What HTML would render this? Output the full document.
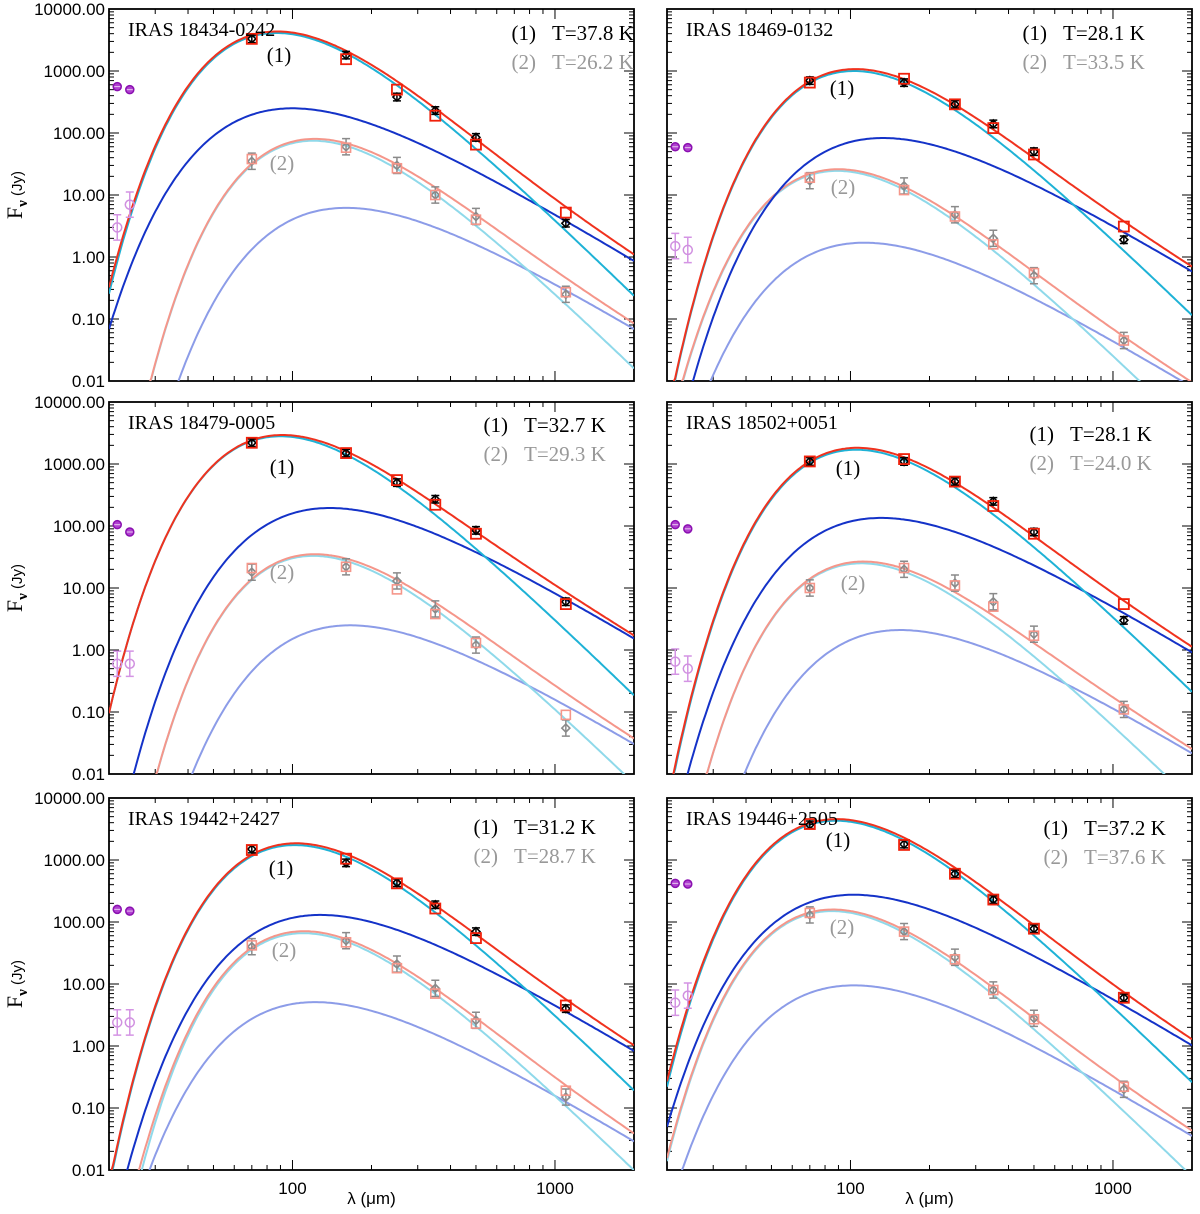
<!DOCTYPE html>
<html><head><meta charset="utf-8"><style>
body{margin:0;background:#fff;overflow:hidden}
svg{display:block}
</style></head><body>
<svg id="fig" width="1200" height="1214" viewBox="0 0 1200 1214" xmlns="http://www.w3.org/2000/svg"></svg>
<script>
const names=["IRAS 18434-0242","IRAS 18469-0132","IRAS 18479-0005","IRAS 18502+0051","IRAS 19442+2427","IRAS 19446+2505"];
const temp1=["37.8","28.1","32.7","28.1","31.2","37.2"];
const temp2=["26.2","33.5","29.3","24.0","28.7","37.6"];
const cyanPeakL=[87,103,90,105,102,88];
const cyanPeakS=[4100,1000,2800,1700,1740,4300];
const bluePeakL=[100,133,139,131,128,103];
const bluePeakS=[250,83,195,135,130,275];
const lcyanPeakL=[120,89,120,110,110,85];
const lcyanPeakS=[75,24.5,33,25,66,150];
const lbluePeakL=[160,113,166,155,122,103];
const lbluePeakS=[6.2,1.7,2.5,2.1,5.1,9.5];
const bandL=[70,160,250,350,500,1100];
const blackF=[[3300,1800,380,230,85,3.5],[700,650,290,140,50,1.9],[2200,1500,500,270,85,6],[1100,1100,520,250,80,3],[1500,900,430,190,70,4],[3700,1800,600,230,78,6]];
const redF=[[3300,1550,500,190,65,5.2],[650,750,290,120,45,3.1],[2200,1500,550,220,75,5.5],[1100,1200,520,210,75,5.5],[1450,1050,420,165,55,4.5],[3800,1750,600,230,78,6]];
const greyF=[[35,60,30,10,4.5,0.25],[17,14,4.8,2,0.5,0.045],[18,22,13,4.6,1.2,0.055],[10,20,12,6,1.8,0.11],[40,50,21,8.5,2.6,0.15],[130,70,27,8,2.8,0.2]];
const salmonF=[[38,58,27,10,4,0.27],[19,12,4.5,1.6,0.55,0.045],[21,22,9.5,3.8,1.3,0.09],[10,21,11,5,1.7,0.11],[42,47,18,7,2.3,0.19],[140,70,25,8,2.7,0.22]];
const midL=[21.5,24];
const purpleF=[[560,500],[60,58],[105,80],[105,90],[160,150],[420,410]];
const lpurpleF=[[3,7],[1.5,1.3],[0.6,0.6],[0.65,0.5],[2.4,2.4],[5,6.5]];
const yTicks=[10000,1000,100,10,1,0.1,0.01];
const yTickLabels=["10000.00","1000.00","100.00","10.00","1.00","0.10","0.01"];
const xTicks=[100,1000];
const xTickLabels=["100","1000"];
const lab1Pos=[[279,55],[842,88],[282,467],[848,468],[281,868],[838,840]];
const lab2Pos=[[282,163],[843,187],[282,572],[853,583],[284,950],[842,927]];
const hdrPos=[[536,33],[1047,33],[508,425],[1054,434],[498,827],[1068,828]];

const NS="http://www.w3.org/2000/svg";
const svg=document.getElementById('fig');
function el(tag,attrs,parent){const e=document.createElementNS(NS,tag);for(const k in attrs)e.setAttribute(k,attrs[k]);(parent||svg).appendChild(e);return e;}
const lefts=[109,667],tops=[9,402,798],W=525,H=372;
const XMIN=Math.log10(20),XMAX=Math.log10(2000),YMIN=-2,YMAX=4;
function gb(l,lp,Sp,a){let x=3;for(let i=0;i<50;i++)x=a*(1-Math.exp(-x));const b=x*lp;return Sp*Math.pow(lp/l,a)*(Math.exp(x)-1)/(Math.exp(b/l)-1);}
const sans='"Liberation Sans",Arial,sans-serif', serif='"Liberation Serif","Times New Roman",serif';

for(let p=0;p<6;p++){
  const col=p%2,row=Math.floor(p/2);
  const L=lefts[col],T=tops[row];
  const xs=v=>L+(Math.log10(v)-XMIN)/(XMAX-XMIN)*W;
  const ys=v=>T+(YMAX-Math.log10(v))/(YMAX-YMIN)*H;
  const g=el('g',{});
  
  
  const cp=el('clipPath',{id:'c'+p},g);el('rect',{x:L,y:T,width:W,height:H},cp);
  const tk=el('g',{stroke:'#000','stroke-width':1},g);
  
  
  for(let d=-2;d<4;d++)for(let m=1;m<10;m++){const v=m*Math.pow(10,d);const y=ys(v);const len=m==1?10:5;
    el('line',{x1:L,x2:L+len,y1:y,y2:y},tk);el('line',{x1:L+W,x2:L+W-len,y1:y,y2:y},tk);}
  for(let d=1;d<4;d++)for(let m=1;m<10;m++){const v=m*Math.pow(10,d);if(v<20||v>2000)continue;const x=xs(v);const len=(m==1)?10:5;
    el('line',{x1:x,x2:x,y1:T+H,y2:T+H-len},tk);el('line',{x1:x,x2:x,y1:T,y2:T+len},tk);}
  const fr=el('rect',{x:L,y:T,width:W,height:H,fill:'none',stroke:'#000','stroke-width':1.8},g);
  
  
  if(col==0){yTicks.forEach((v,i)=>{const t=el('text',{x:L-4,y:ys(v)+6,'text-anchor':'end','font-family':sans,'font-size':17},g);t.textContent=yTickLabels[i];
    
    });
    const yt=el('text',{transform:`translate(22,${T+H/2}) rotate(-90)`,'text-anchor':'middle','font-family':serif,'font-size':22},g);
    
    
    yt.innerHTML='F<tspan font-size="15" dy="5" font-weight="bold">ν</tspan><tspan dy="-5" font-family=\'"Liberation Sans",sans-serif\' font-size="15"> (Jy)</tspan>';}
  if(row==2){xTicks.forEach((v,i)=>{const t=el('text',{x:xs(v),y:T+H+24,'text-anchor':'middle','font-family':sans,'font-size':17},g);t.textContent=xTickLabels[i];
    
    });
    const xt=el('text',{x:L+W/2,y:1204,'text-anchor':'middle','font-family':sans,'font-size':17},g);xt.textContent='λ (μm)';
    
    }
  const cg=el('g',{'clip-path':`url(#c${p})`,fill:'none'},g);
  const N=260;const grid=[];for(let i=0;i<=N;i++)grid.push(Math.pow(10,XMIN+(XMAX-XMIN)*i/N));
  const fC=l=>gb(l,cyanPeakL[p],cyanPeakS[p],5.2), fB=l=>gb(l,bluePeakL[p],bluePeakS[p],3.6);
  const fLC=l=>gb(l,lcyanPeakL[p],lcyanPeakS[p],5.2), fLB=l=>gb(l,lbluePeakL[p],lbluePeakS[p],3.6);
  const curves=[[fLB,'#8c9ce8','light-blue-curve-2'],[fLC,'#8fd9ea','light-cyan-curve-2'],[l=>fLC(l)+fLB(l),'#f5968a','salmon-total-curve-2'],
    [fB,'#1432c8','blue-curve-1'],[fC,'#1eb2d6','cyan-curve-1'],[l=>fC(l)+fB(l),'#f0321e','red-total-curve-1']];
  curves.forEach(([f,c,n])=>{let d='';grid.forEach((l,i)=>{let v=Math.max(f(l),0.0093);d+=(i?'L':'M')+xs(l).toFixed(1)+','+ys(v).toFixed(1);});
    const pa=el('path',{d:d,stroke:c,'stroke-width':2},cg);
    
    });
  const pg=el('g',{'clip-path':`url(#c${p})`},g);
  function diamond(x,y,c,n,err){if(err){const e=el('path',{d:`M${x},${ys(err[0])}V${ys(err[1])}M${x-4},${ys(err[0])}h8M${x-4},${ys(err[1])}h8`,stroke:c,'stroke-width':1.5,fill:'none'},pg);}
    const d=el('path',{d:`M${x},${y-4}L${x+4},${y}L${x},${y+4}L${x-4},${y}Z`,stroke:c,'stroke-width':1.6,fill:'none'},pg);}
  bandL.forEach((l,i)=>{const x=xs(l);
    diamond(x,ys(greyF[p][i]),'#8a8a8a','data-point-2',[greyF[p][i]*1.35,greyF[p][i]/1.35]);
    const s2=el('rect',{x:x-4.5,y:ys(salmonF[p][i])-4.5,width:9,height:9,fill:'none',stroke:'#f5968a','stroke-width':1.6},pg);
    
    
    diamond(x,ys(blackF[p][i]),'#000','data-point-1',[blackF[p][i]*1.15,blackF[p][i]/1.15]);
    const s1=el('rect',{x:x-5,y:ys(redF[p][i])-5,width:10,height:10,fill:'none',stroke:'#f0200a','stroke-width':1.8},pg);
    
    });
  midL.forEach((l,i)=>{const x=xs(l);
    const y1=ys(purpleF[p][i]);
    const c1=el('circle',{cx:x,cy:y1,r:4,fill:'#b040d0',stroke:'#8a10b0','stroke-width':1.5},pg);
    
    
    el('line',{x1:x-3,x2:x+3,y1:y1,y2:y1,stroke:'#e8c8f0','stroke-width':1},pg);
    const v=lpurpleF[p][i];
    const eb=el('path',{d:`M${x},${ys(v*1.6)}V${ys(v/1.6)}M${x-4},${ys(v*1.6)}h8M${x-4},${ys(v/1.6)}h8`,stroke:'#d494e4','stroke-width':1.5,fill:'none'},pg);
    
    
    const c2=el('circle',{cx:x,cy:ys(v),r:4.5,fill:'none',stroke:'#d090e0','stroke-width':1.5},pg);
    
    });
  const nm=el('text',{x:L+19,y:T+27,'font-family':serif,'font-size':20},g);nm.textContent=names[p];
  
  
  const [hx,hy]=hdrPos[p];
  const h1=el('text',{x:hx,y:hy+7,'text-anchor':'end','font-family':serif,'font-size':21},g);h1.textContent='(1)';
  
  
  const t1=el('text',{x:hx+16,y:hy+7,'font-family':serif,'font-size':21},g);t1.textContent='T='+temp1[p]+' K';
  
  
  const h2=el('text',{x:hx,y:hy+36,'text-anchor':'end','font-family':serif,'font-size':21,fill:'#999'},g);h2.textContent='(2)';
  
  
  const t2=el('text',{x:hx+16,y:hy+36,'font-family':serif,'font-size':21,fill:'#999'},g);t2.textContent='T='+temp2[p]+' K';
  
  
  const a1=el('text',{x:lab1Pos[p][0],y:lab1Pos[p][1]+7,'text-anchor':'middle','font-family':serif,'font-size':21},g);a1.textContent='(1)';
  
  
  const a2=el('text',{x:lab2Pos[p][0],y:lab2Pos[p][1]+7,'text-anchor':'middle','font-family':serif,'font-size':21,fill:'#999'},g);a2.textContent='(2)';
  
  
}
</script>
</body></html>
